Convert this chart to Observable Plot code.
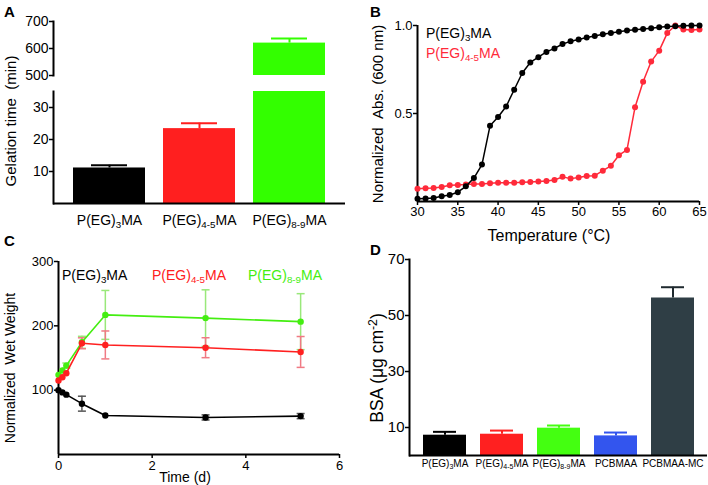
<!DOCTYPE html>
<html><head><meta charset="utf-8">
<script src="https://cdn.jsdelivr.net/npm/d3@7"></script>
<script src="https://cdn.jsdelivr.net/npm/@observablehq/plot@0.6"></script>
<style>
body{margin:0;background:#fff;}
#fig{position:relative;width:708px;height:485px;font-family:"Liberation Sans",Arial,sans-serif;color:#000;overflow:hidden;background:#fff;}
.t{position:absolute;white-space:nowrap;line-height:1;}
.rot{transform:translate(-50%,-50%) rotate(-90deg);}
.ctr{transform:translate(-50%,-50%);}
.lft{transform:translate(0,-50%);}
.let{font-weight:bold;font-size:15px;}
sub{font-size:70%;vertical-align:-0.3em;line-height:0;}
sup{font-size:70%;vertical-align:0.5em;line-height:0;}
</style></head>
<body><div id="fig"></div>
<script>
// ---------- data ----------
// Panel A: gelation time
const catsA = ["P(EG)3MA", "P(EG)4-5MA", "P(EG)8-9MA"];
const gelTime = [11.1, 23.4, 620];
const gelErr = [0.85, 1.7, 17];
const colorsA = ["#000000", "#ff1f1f", "#33ff00"];
const ticksAUpper = [500, 600, 700];
const ticksALower = [10, 20, 30];

// Panel B: normalized absorbance vs temperature
const tempB = [30,31,32,33,34,35,36,37,38,39,40,41,42,43,44,45,46,47,48,49,50,51,52,53,54,55,56,57,58,59,60,61,62,63,64,65];
const absEG3 = [0.015,0.017,0.02,0.03,0.037,0.053,0.086,0.133,0.21,0.43,0.48,0.54,0.635,0.73,0.79,0.82,0.85,0.87,0.895,0.91,0.92,0.932,0.94,0.95,0.957,0.964,0.972,0.976,0.98,0.985,0.99,0.994,0.996,0.998,1.0,1.0];
const absEG45 = [0.073,0.075,0.077,0.083,0.092,0.094,0.096,0.1,0.1,0.103,0.107,0.107,0.107,0.109,0.111,0.113,0.117,0.122,0.14,0.13,0.137,0.145,0.147,0.175,0.203,0.263,0.293,0.536,0.68,0.795,0.857,0.957,1.0,0.977,0.974,0.977];
const ticksBX = [30, 35, 40, 45, 50, 55, 60, 65];
const ticksBY = [0.5, 1.0];

// Panel C: normalized wet weight vs time
const timeC = [0, 0.083, 0.167, 0.5, 1, 3.14, 5.17];
const wwEG3 = [100, 96.5, 93, 79, 60.7, 57.6, 59.7];
const wwEG3Err = [0, 0, 0, 11.6, 0, 4, 4];
const wwEG45 = [115, 120, 126.4, 172.9, 170.3, 166, 159.4];
const wwEG45Err = [0, 0, 0, 8.5, 21.7, 15.5, 24];
const wwEG89 = [123.8, 130.5, 138.2, 174.4, 217, 212, 206.5];
const wwEG89Err = [0, 0, 4, 9.3, 38, 44, 43.5];
const ticksCX = [0, 2, 4, 6];
const ticksCY = [100, 200, 300];

// Panel D: BSA adsorption
const catsD = ["P(EG)3MA", "P(EG)4-5MA", "P(EG)8-9MA", "PCBMAA", "PCBMAA-MC"];
const bsa = [7.25, 7.6, 9.76, 7.0, 56.25];
const bsaErr = [1.2, 1.3, 0.95, 1.2, 3.85];
const colorsD = ["#000000", "#ff2020", "#44ff11", "#3355ee", "#2f3e45"];
const capColorsD = ["#000000", "#ff2020", "#44ff11", "#3355ee", "#1f2a2f"];
const ticksDY = [10, 30, 50, 70];

// ---------- helpers ----------
const FONT = '"Liberation Sans", Arial, sans-serif';
const fig = document.getElementById("fig");
const baseStyle = (fs) => ({fontFamily: FONT, fontSize: fs + "px", color: "#000", background: "transparent", overflow: "visible"});
function place(svg, left, top) {
  svg.style.position = "absolute";
  svg.style.left = left + "px";
  svg.style.top = top + "px";
  fig.append(svg);
}
function subify(svg, shift) {
  const ns = "http://www.w3.org/2000/svg";
  svg.querySelectorAll("text").forEach(t => {
    const m = t.textContent.match(/^(P\(EG\))([\d-]+)(MA)$/);
    if (!m) return;
    t.textContent = "";
    const a = document.createElementNS(ns, "tspan"); a.textContent = m[1];
    const b = document.createElementNS(ns, "tspan"); b.textContent = m[2];
    b.setAttribute("font-size", "70%"); b.setAttribute("dy", shift);
    const c = document.createElementNS(ns, "tspan"); c.textContent = m[3];
    c.setAttribute("dy", -shift);
    t.append(a, b, c);
  });
}
function label(html, x, y, cls, css) {
  const d = document.createElement("div");
  d.className = "t " + cls;
  d.style.left = x + "px";
  d.style.top = y + "px";
  if (css) Object.assign(d.style, css);
  d.innerHTML = html;
  fig.append(d);
}
const intFmt = d => String(d);

// ---------- Panel A ----------
const aData = catsA.map((c, i) => ({cat: c, v: gelTime[i], e: gelErr[i], col: colorsA[i]}));
const xA = {domain: catsA, paddingInner: 0.204, paddingOuter: 0.215};
const aHigh = aData.filter(d => d.v > 500);
const aLowErr = aData.filter(d => d.v + d.e <= 35);

const aUp = Plot.plot({
  width: 354, height: 85, marginLeft: 53, marginRight: 9, marginTop: 21, marginBottom: 10,
  x: {...xA, axis: null}, y: {domain: [500, 700]}, color: {type: "identity"},
  style: baseStyle(14),
  marks: [
    Plot.barY(aHigh, {x: "cat", y1: 500, y2: "v", fill: "col"}),
    Plot.ruleX(aHigh, {x: "cat", y1: "v", y2: d => d.v + d.e, stroke: "col", strokeWidth: 2}),
    Plot.tickY(aHigh, {x: "cat", y: d => d.v + d.e, stroke: "col", strokeWidth: 2, insetLeft: 18, insetRight: 18}),
    Plot.frame({anchor: "left", strokeWidth: 2}),
    Plot.axisY({ticks: ticksAUpper, tickFormat: intFmt, tickSize: 4, tickPadding: 1, strokeWidth: 1.5, label: null})
  ]
});
place(aUp, 0, 0);

const aLow = Plot.plot({
  width: 354, height: 155, marginLeft: 53, marginRight: 9, marginTop: 6, marginBottom: 37,
  x: {...xA}, y: {domain: [0, 35]}, color: {type: "identity"},
  style: baseStyle(14),
  marks: [
    Plot.barY(aData, {x: "cat", y1: 0, y2: d => Math.min(d.v, 35), fill: "col"}),
    Plot.ruleX(aLowErr, {x: "cat", y1: "v", y2: d => d.v + d.e, stroke: "col", strokeWidth: 2}),
    Plot.tickY(aLowErr, {x: "cat", y: d => d.v + d.e, stroke: "col", strokeWidth: 2, insetLeft: 18, insetRight: 18}),
    Plot.frame({anchor: "left", strokeWidth: 2}),
    Plot.ruleY([0], {strokeWidth: 2}),
    Plot.axisY({ticks: ticksALower, tickFormat: intFmt, tickSize: 4, tickPadding: 1, strokeWidth: 1.5, label: null}),
    Plot.axisX({tickSize: 0, tickPadding: 12, label: null})
  ]
});
subify(aLow, 3);
place(aLow, 0, 85);

// ---------- Panel B ----------
const bBlack = tempB.map((t, i) => ({t, v: absEG3[i]}));
const bRed = tempB.map((t, i) => ({t, v: absEG45[i]}));
const redB = "#ff2a3a";
const bPlot = Plot.plot({
  width: 354, height: 240, marginLeft: 63, marginRight: 9, marginTop: 25, marginBottom: 39,
  x: {domain: [30, 65]}, y: {domain: [0, 1]},
  style: baseStyle(13),
  marks: [
    Plot.ruleX([30], {strokeWidth: 2}),
    Plot.ruleY([0], {strokeWidth: 2}),
    Plot.line(bRed, {x: "t", y: "v", stroke: redB, strokeWidth: 1.5}),
    Plot.dot(bRed, {x: "t", y: "v", fill: redB, r: 3}),
    Plot.line(bBlack, {x: "t", y: "v", stroke: "#000", strokeWidth: 1.5}),
    Plot.dot(bBlack, {x: "t", y: "v", fill: "#000", r: 3}),
    Plot.axisX({ticks: ticksBX, tickFormat: intFmt, tickSize: 4, tickPadding: 1, strokeWidth: 1.5, label: null}),
    Plot.axisY({ticks: ticksBY, tickFormat: d3.format(".1f"), tickSize: 4, tickPadding: 1, strokeWidth: 1.5, label: null})
  ]
});
place(bPlot, 354, 0);

// ---------- Panel C ----------
const cap = {draw(ctx) { ctx.moveTo(-4, 0); ctx.lineTo(4, 0); }};
const series = [
  {vals: wwEG3, err: wwEG3Err, col: "#000000", ecol: "#555555"},
  {vals: wwEG89, err: wwEG89Err, col: "#44ee11", ecol: "#99e87a"},
  {vals: wwEG45, err: wwEG45Err, col: "#ff2020", ecol: "#f07a84"}
];
const cMarks = [Plot.ruleX([0], {strokeWidth: 2}), Plot.ruleY([0], {strokeWidth: 2})];
for (const s of series) {
  const d = timeC.map((t, i) => ({t, v: s.vals[i], e: s.err[i]})).filter(x => x.e > 0);
  cMarks.push(
    Plot.ruleX(d, {x: "t", y1: x => x.v - x.e, y2: x => x.v + x.e, stroke: s.ecol, strokeWidth: 1.5}),
    Plot.dot(d, {x: "t", y: x => x.v + x.e, symbol: cap, fill: "none", stroke: s.ecol, strokeWidth: 1.5}),
    Plot.dot(d, {x: "t", y: x => x.v - x.e, symbol: cap, fill: "none", stroke: s.ecol, strokeWidth: 1.5})
  );
}
for (const s of series) {
  const d = timeC.map((t, i) => ({t, v: s.vals[i]}));
  cMarks.push(
    Plot.line(d, {x: "t", y: "v", stroke: s.col, strokeWidth: 1.6}),
    Plot.dot(d, {x: "t", y: "v", fill: s.col, r: 3.2})
  );
}
cMarks.push(
  Plot.axisX({ticks: ticksCX, tickFormat: intFmt, tickSize: 4, tickPadding: 2, strokeWidth: 1.5, label: null}),
  Plot.axisY({ticks: ticksCY, tickFormat: intFmt, tickSize: 4, tickPadding: 1, strokeWidth: 1.5, label: null})
);
const cPlot = Plot.plot({
  width: 354, height: 245, marginLeft: 58, marginRight: 15, marginTop: 21, marginBottom: 31,
  x: {domain: [0, 6]}, y: {domain: [0, 300]},
  style: baseStyle(13),
  marks: cMarks
});
place(cPlot, 0, 240);

// ---------- Panel D ----------
const dData = catsD.map((c, i) => ({cat: c, v: bsa[i], e: bsaErr[i], col: colorsD[i], ccol: capColorsD[i]}));
const dPlot = Plot.plot({
  width: 354, height: 245, marginLeft: 55, marginRight: 1, marginTop: 19, marginBottom: 30,
  x: {domain: catsD, paddingInner: 0.247, paddingOuter: 0.2}, y: {domain: [0, 70]},
  color: {type: "identity"},
  style: baseStyle(15),
  marks: [
    Plot.barY(dData, {x: "cat", y1: 0, y2: "v", fill: "col"}),
    Plot.ruleX(dData, {x: "cat", y1: "v", y2: d => d.v + d.e, stroke: "ccol", strokeWidth: 2}),
    Plot.tickY(dData, {x: "cat", y: d => d.v + d.e, stroke: "ccol", strokeWidth: 2, insetLeft: 10, insetRight: 10}),
    Plot.frame({anchor: "left", strokeWidth: 2}),
    Plot.ruleY([0], {strokeWidth: 2}),
    Plot.axisY({ticks: ticksDY, tickFormat: intFmt, tickSize: 4, tickPadding: 1, strokeWidth: 1.5, label: null}),
    Plot.axisX({tickSize: 0, tickPadding: 4, fontSize: 10, label: null})
  ]
});
subify(dPlot, 2);
place(dPlot, 354, 240);

// ---------- texts ----------
label("A", 4, 4, "let");
label("B", 370, 4, "let");
label("C", 4, 233, "let");
label("D", 370, 242, "let");

label("Gelation time&nbsp;&nbsp;(min)", 10, 121, "rot", {fontSize: "15px"});
label("Normalized&nbsp;&nbsp;Abs. (600 nm)", 377, 114, "rot", {fontSize: "15px"});
label("Temperature (°C)", 549, 236, "ctr", {fontSize: "16px"});
label("P(EG)<sub>3</sub>MA", 426, 33, "lft", {fontSize: "14px"});
label("P(EG)<sub>4-5</sub>MA", 426, 53, "lft", {fontSize: "14px", color: redB});

label("Normalized&nbsp;&nbsp;Wet Weight", 10, 368, "rot", {fontSize: "14px"});
label("Time&nbsp;(d)", 185, 477, "ctr", {fontSize: "14px"});
label("P(EG)<sub>3</sub>MA", 62, 275, "lft", {fontSize: "14px"});
label("P(EG)<sub>4-5</sub>MA", 152, 275, "lft", {fontSize: "14px", color: "#ff2020"});
label("P(EG)<sub>8-9</sub>MA", 248, 275, "lft", {fontSize: "14px", color: "#44ee11"});

label("BSA (μg cm<sup>-2</sup>)", 378, 368, "rot", {fontSize: "17.5px"});
</script>
</body></html>
